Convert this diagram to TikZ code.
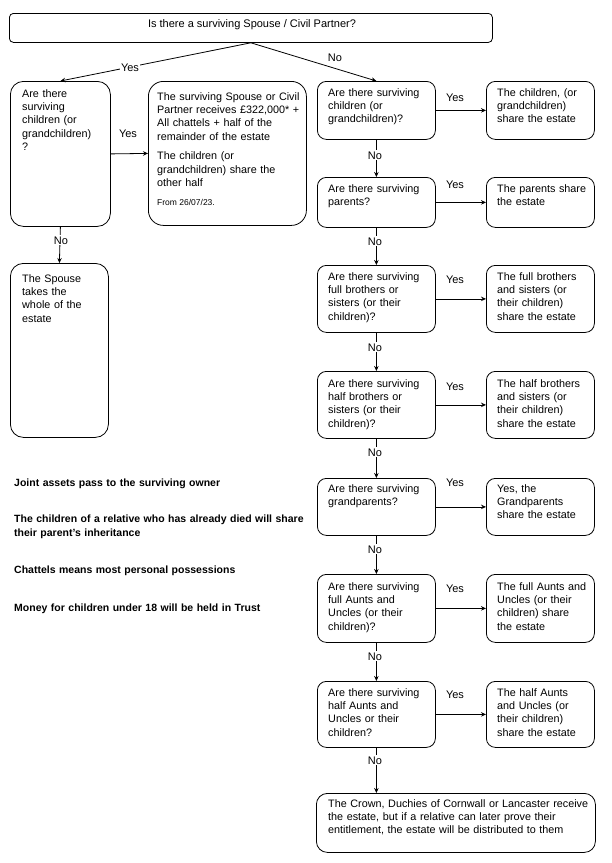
\documentclass[tikz,border=0pt]{standalone}
\usepackage{fontspec}
\setmainfont{Liberation Sans}
\usetikzlibrary{arrows.meta}
\tikzset{
  box/.style={draw, line width=0.8pt, rounded corners=9pt, inner sep=0pt, anchor=north west},
  txt/.style={anchor=base west, inner sep=0pt, text width=300pt, align=left, font=\fontsize{10.8}{13.4}\selectfont},
  lbl/.style={anchor=base, fill=white, inner sep=1.2pt, font=\fontsize{11}{13}\selectfont},
  note/.style={anchor=base west, inner sep=0pt, text width=320pt, align=left, font=\fontsize{10.5}{14}\selectfont\bfseries},
  arr/.style={line width=0.8pt, -{Stealth[length=5pt,width=4.5pt]}},
}
\newcommand\mkbox[6][]{\node[box,#1,minimum width={(#4-#2)*1pt},minimum height={(#5-#3)*1pt}] (#6) at (#2,#3) {};}
\begin{document}
\begin{tikzpicture}[x=1pt,y=-1pt]
\useasboundingbox[fill=white] (0,0) rectangle (612,863);
% boxes
\mkbox[rounded corners=4pt]{9}{13}{492}{42}{top}
\mkbox[rounded corners=13pt]{10}{81}{110}{226}{lq}
\mkbox[rounded corners=15pt]{148}{81}{306}{225}{sp}
\mkbox[rounded corners=13pt]{10}{263}{108}{437}{sw}
\mkbox{317}{81}{435}{139}{q1}
\mkbox{317}{177}{435}{227}{q2}
\mkbox{317}{265}{435}{332}{q3}
\mkbox{317}{371}{435}{438}{q4}
\mkbox{317}{478}{435}{535}{q5}
\mkbox{317}{574}{435}{642}{q6}
\mkbox{317}{681}{435}{747}{q7}
\mkbox{486}{81}{594}{139}{a1}
\mkbox{486}{177}{594}{227}{a2}
\mkbox{486}{265}{594}{332}{a3}
\mkbox{486}{371}{594}{438}{a4}
\mkbox{486}{478}{594}{535}{a5}
\mkbox{486}{574}{594}{642}{a6}
\mkbox{486}{681}{594}{747}{a7}
\mkbox[rounded corners=11pt]{316}{793}{595}{852}{fin}
% texts
\node[anchor=base, inner sep=0pt, font=\fontsize{11}{13.4}\selectfont] (topt) at (252,27) {Is there a surviving Spouse / Civil Partner?};
\node[txt] (lqt) at (22,97) {Are there\\surviving\\children (or\\grandchildren)\\?};
\node[txt] (spt) at (157,100) {The surviving Spouse or Civil\\Partner receives £322,000* +\\All chattels + half of the\\remainder of the estate\\[6.3pt]The children (or\\grandchildren) share the\\other half};
\node[anchor=base west, inner sep=0pt, font=\fontsize{8.5}{10}\selectfont] (from) at (157,205.5) {From 26/07/23.};
\node[txt] (swt) at (22,282) {The Spouse\\takes the\\whole of the\\estate};
\node[txt] (q1t) at (328,96) {Are there surviving\\children (or\\grandchildren)?};
\node[txt] (q2t) at (328,192) {Are there surviving\\parents?};
\node[txt] (q3t) at (328,280) {Are there surviving\\full brothers or\\sisters (or their\\children)?};
\node[txt] (q4t) at (328,387) {Are there surviving\\half brothers or\\sisters (or their\\children)?};
\node[txt] (q5t) at (328,492) {Are there surviving\\grandparents?};
\node[txt] (q6t) at (328,590) {Are there surviving\\full Aunts and\\Uncles (or their\\children)?};
\node[txt] (q7t) at (328,696) {Are there surviving\\half Aunts and\\Uncles or their\\children?};
\node[txt] (a1t) at (497,96) {The children, (or\\grandchildren)\\share the estate};
\node[txt] (a2t) at (497,192) {The parents share\\the estate};
\node[txt] (a3t) at (497,280) {The full brothers\\and sisters (or\\their children)\\share the estate};
\node[txt] (a4t) at (497,387) {The half brothers\\and sisters (or\\their children)\\share the estate};
\node[txt] (a5t) at (497,492) {Yes, the\\Grandparents\\share the estate};
\node[txt] (a6t) at (497,590) {The full Aunts and\\Uncles (or their\\children) share\\the estate};
\node[txt] (a7t) at (497,696) {The half Aunts\\and Uncles (or\\their children)\\share the estate};
\node[txt] (fint) at (328,807) {The Crown, Duchies of Cornwall or Lancaster receive\\the estate, but if a relative can later prove their\\entitlement, the estate will be distributed to them};
% notes
\node[note] (n1) at (14,486) {Joint assets pass to the surviving owner};
\node[note] (n2) at (14,522) {The children of a relative who has already died will share\\their parent's inheritance};
\node[note] (n3) at (14,573) {Chattels means most personal possessions};
\node[note] (n4) at (14,611) {Money for children under 18 will be held in Trust};
% connectors
\draw[arr] (top.south) -- (lq.north);
\draw[arr] (top.south) -- (q1.north);
\draw[arr] (lq.east) -- (sp.west);
\draw[arr] (lq.south) -- (sw.north);
\draw[arr] (q1.south) -- (q2.north);
\draw[arr] (q2.south) -- (q3.north);
\draw[arr] (q3.south) -- (q4.north);
\draw[arr] (q4.south) -- (q5.north);
\draw[arr] (q5.south) -- (q6.north);
\draw[arr] (q6.south) -- (q7.north);
\draw[arr] (q7.south) -- (q7.south |- fin.north);
\draw[arr] (q1.east) -- (a1.west);
\draw[arr] (q2.east) -- (a2.west);
\draw[arr] (q3.east) -- (a3.west);
\draw[arr] (q4.east) -- (a4.west);
\draw[arr] (q5.east) -- (a5.west);
\draw[arr] (q6.east) -- (a6.west);
\draw[arr] (q7.east) -- (a7.west);
% labels
\node[lbl] (ly0) at (130,71) {Yes};
\node[lbl] (ln0) at (335,61) {No};
\node[lbl] (ly1) at (128,137) {Yes};
\node[lbl] (ln1) at (61,244) {No};
\foreach \yy [count=\i] in {97,184,279,386,482,588,694} {
  \node[lbl] (ry\i) at (455,\yy+4) {Yes};
}
\foreach \yy [count=\i] in {155,241,347,452,549,656,760} {
  \node[lbl] (rn\i) at (375,\yy+4) {No};
}
\end{tikzpicture}
\end{document}
